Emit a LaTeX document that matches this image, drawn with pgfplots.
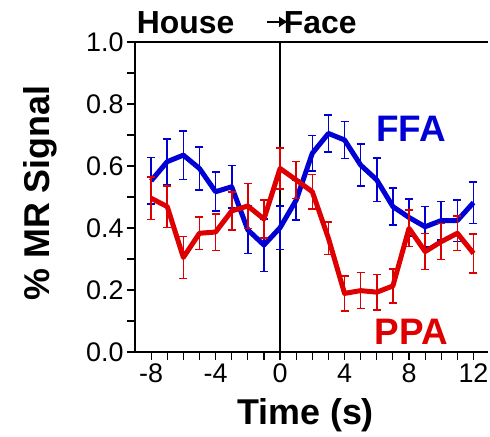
\documentclass[border=0pt]{standalone}
\usepackage{fontspec}
\setmainfont{Liberation Sans}
\usepackage{pgfplots}
\pgfplotsset{compat=1.18}
\usepackage{pgfplotstable}
\usetikzlibrary{arrows.meta}
\definecolor{ffablue}{RGB}{0,0,212}
\definecolor{ppared}{RGB}{222,0,0}

% time (s), mean, error
\pgfplotstableread{
t    y      e
-8   0.552  0.075
-7   0.614  0.074
-6   0.635  0.078
-5   0.592  0.070
-4   0.517  0.063
-3   0.533  0.068
-2   0.394  0.076
-1   0.345  0.085
0    0.401  0.070
1    0.490  0.065
2    0.641  0.058
3    0.705  0.060
4    0.684  0.060
5    0.603  0.067
6    0.555  0.070
7    0.469  0.060
8    0.434  0.060
9    0.404  0.065
10   0.424  0.062
11   0.424  0.067
12   0.482  0.067
}\ffa

\pgfplotstableread{
t    y      e
-8   0.496  0.068
-7   0.469  0.067
-6   0.305  0.068
-5   0.383  0.053
-4   0.387  0.059
-3   0.455  0.062
-2   0.471  0.072
-1   0.429  0.062
0    0.592  0.067
1    0.555  0.060
2    0.517  0.055
3    0.367  0.053
4    0.189  0.056
5    0.198  0.058
6    0.193  0.057
7    0.213  0.055
8    0.399  0.059
9    0.324  0.058
10   0.356  0.058
11   0.383  0.056
12   0.318  0.063
}\ppa

\begin{document}
\begin{tikzpicture}
\begin{axis}[
    at={(0,0)}, anchor=south west,
    scale only axis,
    width=353bp, height=310bp,
    xmin=-9, xmax=12.9,
    ymin=0, ymax=1,
    clip=false,
    axis x line*=bottom,
    axis y line*=left,
    axis line style={-, line width=1.2bp},
    tick style={black, line width=1.2bp},
    tick align=outside,
    major tick length=8bp,
    minor tick length=8bp,
    xtick={-8,-4,0,4,8,12},
    minor xtick={-7,-6,-5,-3,-2,-1,1,2,3,5,6,7,9,10,11},
    ytick={0,0.2,0.4,0.6,0.8,1.0},
    minor ytick={0.1,0.3,0.5,0.7,0.9},
    yticklabel style={/pgf/number format/.cd, fixed, fixed zerofill, precision=1},
    /pgf/number format/assume math mode=true,
    ticklabel style={font=\fontsize{27}{30}\selectfont},
    xlabel={Time (s)},
    ylabel={\% MR Signal},
    label style={font=\fontsize{36}{40}\selectfont\bfseries},
    xlabel style={at={(axis description cs:0.483,-0.235)}, anchor=base},
    ylabel style={at={(axis description cs:-0.241,0.513)}, anchor=base, rotate=0},
]
\draw[black, line width=1.2bp] (axis cs:-9,1) -- (axis cs:12.9,1);
\draw[black, line width=1.2bp] (axis cs:0,0) -- (axis cs:0,1);

\addplot[ffablue, line width=5bp, line join=round,
    error bars/.cd, y dir=both, y explicit,
    error bar style={line width=1.6bp, ffablue},
    error mark options={rotate=90, mark size=4bp, line width=1.6bp, ffablue}]
    table[x=t, y=y, y error=e] {\ffa};
\addplot[ppared, line width=5bp, line join=round,
    error bars/.cd, y dir=both, y explicit,
    error bar style={line width=1.6bp, ppared},
    error mark options={rotate=90, mark size=4bp, line width=1.6bp, ppared}]
    table[x=t, y=y, y error=e] {\ppa};

\node[font=\fontsize{32}{34}\selectfont\bfseries, anchor=base west, inner sep=0pt]
    at (axis cs:-8.9,1.029) {House};
\node[font=\fontsize{32}{34}\selectfont\bfseries, anchor=base west, inner sep=0pt]
    at (axis cs:0.23,1.029) {Face};
\draw[black, line width=1.5bp, -{Latex[length=9bp,width=11bp]}] (axis cs:-0.8,1.065) -- (axis cs:0.5,1.065);

\node[font=\fontsize{37}{40}\selectfont\bfseries, text=ffablue, anchor=base, inner sep=0pt]
    at (axis cs:8.14,0.678) {FFA};
\node[font=\fontsize{37}{40}\selectfont\bfseries, text=ppared, anchor=base, inner sep=0pt]
    at (axis cs:8.14,0.023) {PPA};
\end{axis}
\pgfresetboundingbox
\path[use as bounding box] (-135bp,-85bp) rectangle (355bp,352bp);
\end{tikzpicture}
\end{document}
